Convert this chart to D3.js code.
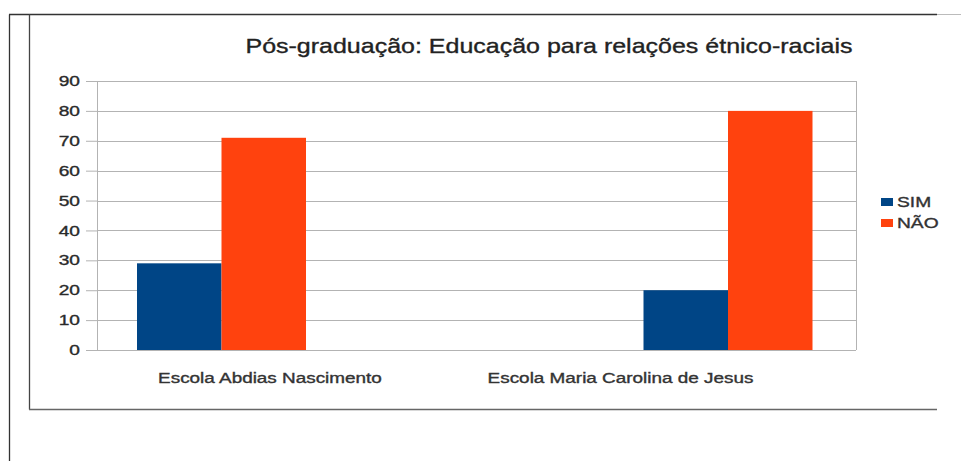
<!DOCTYPE html>
<html>
<head>
<meta charset="utf-8">
<script src="https://cdn.jsdelivr.net/npm/d3@7"></script>
<style>
  html, body { margin: 0; padding: 0; background: #fff; }
  svg { display: block; font-family: "Liberation Sans", Arial, sans-serif; }
  text { stroke-width: 0.35px; paint-order: stroke; }
</style>
</head>
<body>
<svg id="chart" width="961" height="461"></svg>
<script>
// Data
const categories = ["Escola Abdias Nascimento", "Escola Maria Carolina de Jesus"];
const seriesNames = ["SIM", "NÃO"];
const simValues = [29, 20];
const naoValues = [71, 80];
const yTicks = [0, 10, 20, 30, 40, 50, 60, 70, 80, 90];
const chartTitle = "Pós-graduação: Educação para relações étnico-raciais";

const colors = { "SIM": "#004586", "NÃO": "#ff420e" };

const svg = d3.select("#chart");

// widen a text element horizontally by factor k
function stretch(sel, k) {
  sel.each(function () {
    const w = this.getComputedTextLength();
    d3.select(this).attr("textLength", w * k).attr("lengthAdjust", "spacingAndGlyphs");
  });
}

// frame lines around the chart
const frame = svg.append("g").attr("fill", "none");
frame.append("line").attr("x1", 9.5).attr("y1", 14.5).attr("x2", 9.5).attr("y2", 461)
  .attr("stroke", "#333").attr("stroke-width", 1.3);
frame.append("line").attr("x1", 9).attr("y1", 14.5).attr("x2", 937).attr("y2", 14.5)
  .attr("stroke", "#333").attr("stroke-width", 1.3);
frame.append("line").attr("x1", 937).attr("y1", 14.5).attr("x2", 961).attr("y2", 14.5)
  .attr("stroke", "#bbb").attr("stroke-width", 1);
frame.append("line").attr("x1", 29.5).attr("y1", 14.5).attr("x2", 29.5).attr("y2", 409.5)
  .attr("stroke", "#444").attr("stroke-width", 1.3);
frame.append("line").attr("x1", 29).attr("y1", 409.5).attr("x2", 937).attr("y2", 409.5)
  .attr("stroke", "#666").attr("stroke-width", 1.3);

// plot area
const plot = { left: 97, right: 856, top: 81, bottom: 350 };

const y = d3.scaleLinear().domain([0, 90]).range([plot.bottom, plot.top]);

// group centres and label centres
const xGroup = d3.scalePoint().domain(categories).range([221.5, 728]);
const xLabel = d3.scalePoint().domain(categories).range([270, 620.5]);
const xSeries = d3.scaleBand().domain(seriesNames).range([-84.5, 84.5]);

// gridlines
const grid = svg.append("g");
grid.selectAll("line.h").data(yTicks).join("line")
  .attr("class", "h")
  .attr("x1", plot.left).attr("x2", plot.right)
  .attr("y1", d => Math.round(y(d)) + 0.5).attr("y2", d => Math.round(y(d)) + 0.5)
  .attr("stroke", "#b3b3b3").attr("stroke-width", 1);
grid.append("line")
  .attr("x1", plot.left + 0.5).attr("x2", plot.left + 0.5)
  .attr("y1", plot.top).attr("y2", plot.bottom)
  .attr("stroke", "#b3b3b3");
grid.append("line")
  .attr("x1", plot.right + 0.5).attr("x2", plot.right + 0.5)
  .attr("y1", plot.top).attr("y2", plot.bottom)
  .attr("stroke", "#b3b3b3");

// y axis
const yAxis = d3.axisLeft(y).tickValues(yTicks).tickSize(11).tickPadding(6);
const ya = svg.append("g")
  .attr("transform", `translate(${plot.left},0)`)
  .call(yAxis);
ya.select(".domain").remove();
ya.selectAll(".tick line").attr("stroke", "#b3b3b3");
ya.selectAll(".tick text")
  .attr("font-family", "Liberation Sans, Arial, sans-serif")
  .attr("font-size", 14.5).attr("fill", "#2a2a2a").attr("stroke", "#2a2a2a")
  .call(stretch, 1.32);

// bars
const rows = categories.map((c, i) => ({ cat: c, values: { "SIM": simValues[i], "NÃO": naoValues[i] } }));
const groups = svg.append("g").selectAll("g").data(rows).join("g")
  .attr("transform", d => `translate(${xGroup(d.cat)},0)`);
groups.selectAll("rect").data(d => seriesNames.map(s => ({ s, v: d.values[s] }))).join("rect")
  .attr("x", d => xSeries(d.s))
  .attr("width", xSeries.bandwidth())
  .attr("y", d => y(d.v))
  .attr("height", d => y(0) - y(d.v))
  .attr("fill", d => colors[d.s]);

// category labels
svg.append("g").selectAll("text").data(categories).join("text")
  .attr("x", d => xLabel(d))
  .attr("y", 383)
  .attr("text-anchor", "middle")
  .attr("font-size", 14)
  .attr("fill", "#333").attr("stroke", "#333")
  .text(d => d)
  .call(stretch, 1.35);

// title
svg.append("text")
  .attr("x", 549).attr("y", 53)
  .attr("text-anchor", "middle")
  .attr("font-size", 21)
  .attr("fill", "#222").attr("stroke", "#222")
  .text(chartTitle)
  .call(stretch, 1.19);

// legend
const legend = svg.append("g").selectAll("g").data(seriesNames).join("g")
  .attr("transform", (d, i) => `translate(881,${202 + i * 21})`);
legend.append("rect").attr("x", 0).attr("y", -4).attr("width", 12).attr("height", 8)
  .attr("fill", d => colors[d]);
legend.append("text").attr("x", 16).attr("y", 0).attr("dy", "0.36em")
  .attr("font-size", 15).attr("fill", "#333").attr("stroke", "#333")
  .text(d => d)
  .call(stretch, 1.28);
</script>
</body>
</html>
